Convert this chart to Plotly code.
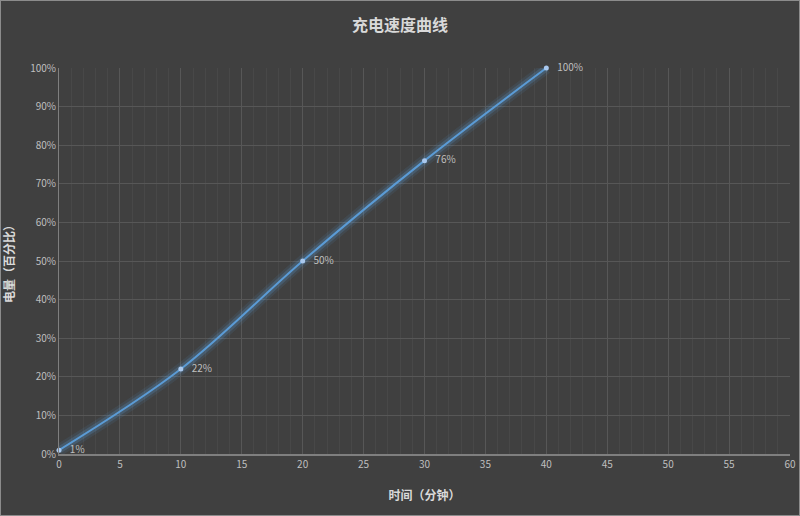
import plotly.graph_objects as go

# 充电数据
minutes = [0, 10, 20, 30, 40]
charge = [1, 22, 50, 76, 100]
labels = ["1%", "22%", "50%", "76%", "100%"]

W, H = 800, 516
ml, mr, mt, mb = 59, 10, 68, 62
pw, ph = W - ml - mr, H - mt - mb

font_cn = "Noto Sans CJK SC"

fig = go.Figure()

# glow under the line
for w, a in [(12, 0.10), (7, 0.22)]:
    fig.add_trace(go.Scatter(
        x=minutes, y=charge, mode="lines",
        line=dict(color=f"rgba(91,155,213,{a})", width=w, shape="spline"),
        hoverinfo="skip", showlegend=False,
    ))

fig.add_trace(go.Scatter(
    x=minutes, y=charge, mode="lines+markers+text",
    line=dict(color="#5b9bd5", width=2, shape="spline"),
    marker=dict(size=5, color="#a9c8ee", line=dict(width=0)),
    text=["   " + s for s in labels], textposition="middle right",
    textfont=dict(family=font_cn, size=10, color="#bfbfbf"),
    cliponaxis=False, showlegend=False,
))

fig.update_layout(
    width=W, height=H,
    margin=dict(l=ml, r=mr, t=mt, b=mb, pad=0, autoexpand=False),
    paper_bgcolor="#404040",
    plot_bgcolor="#404040",
    title=dict(text="<b>充电速度曲线</b>", x=0.5, xanchor="center", y=1 - 25 / H,
               yanchor="middle",
               font=dict(family=font_cn, size=16, color="#d9d9d9")),
    font=dict(family=font_cn, color="#bfbfbf"),
    shapes=[dict(
        type="rect", xref="paper", yref="paper",
        x0=-ml / pw, x1=(W - ml) / pw,
        y0=-mb / ph, y1=(H - mb) / ph,
        line=dict(color="#8c8c8c", width=2), layer="above",
    )],
)

fig.update_xaxes(
    range=[0, 60], dtick=5, tick0=0,
    showgrid=True, gridcolor="#575757", gridwidth=1,
    minor=dict(dtick=1, showgrid=True, gridcolor="#484848", gridwidth=1),
    showline=True, linecolor="#7f7f7f", linewidth=2,
    zeroline=False, ticks="",
    tickfont=dict(size=10, color="#bfbfbf"),
    title=dict(text="<b>时间（分钟）</b>", font=dict(family=font_cn, size=12, color="#d9d9d9"),
               standoff=22),
)
fig.update_yaxes(
    range=[0, 100], dtick=10, ticksuffix="%",
    showgrid=True, gridcolor="#575757", gridwidth=1,
    showline=True, linecolor="#7f7f7f", linewidth=1,
    zeroline=False, ticks="",
    tickfont=dict(size=10, color="#bfbfbf"),
    title=dict(text="<b>电量（百分比）</b>", font=dict(family=font_cn, size=12, color="#d9d9d9"),
               standoff=12),
)

fig.write_html("out.html", config={"displayModeBar": False},
               post_script="document.body.style.margin='0';")
